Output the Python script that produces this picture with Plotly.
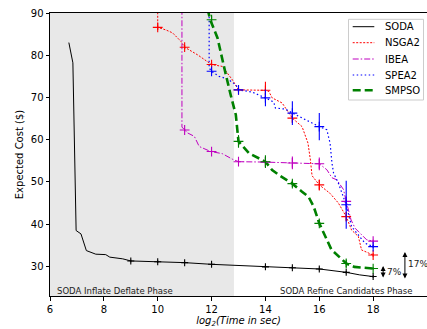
import plotly.graph_objects as go

# ---------------- data ----------------
soda_x = [6.7, 6.85, 6.97, 7.15, 7.35, 7.7, 8.07, 8.22, 8.7, 9.0, 10, 11, 12, 13, 14, 15, 16, 17, 17.5, 18]
soda_y = [83, 78.2, 38.5, 37.7, 33.75, 32.9, 32.8, 32.2, 31.8, 31.3, 31.1, 30.9, 30.5, 30.2, 29.9, 29.7, 29.4, 28.6, 28.0, 27.6]
soda_mx = [9, 10, 11, 12, 14, 15, 16, 17, 18]
soda_my = [31.3, 31.1, 30.9, 30.5, 29.9, 29.7, 29.4, 28.6, 27.6]
soda_me = [0.3, 0.3, 0.2, 0.2, 0.3, 0.3, 0.3, 0.3, 0.3]

nsga_x = [10.0, 10.0, 10.3, 10.55, 10.86, 11.0, 11.48, 12.0, 12.4, 12.77, 13.0, 14.0, 14.13, 14.25, 14.62, 15.0, 15.36, 15.58, 15.67, 15.73, 15.79, 16.0, 16.4, 16.71, 17.0, 17.2, 17.45, 17.57, 18.0]
nsga_y = [91, 86.6, 86.0, 85.3, 83.3, 81.9, 80.1, 77.8, 77.35, 74.2, 71.8, 71.7, 71.4, 69.9, 68.7, 65.1, 63.1, 59.2, 55.2, 51.5, 51.0, 49.3, 47.3, 45.0, 41.8, 38.6, 37.1, 33.9, 32.7]
nsga_mx = [10, 11, 12, 13, 14, 15, 16, 17, 18]
nsga_my = [86.6, 81.9, 77.8, 71.8, 71.7, 65.1, 49.3, 41.8, 32.7]
nsga_me = [0.6, 0.5, 0.5, 0.5, 2.0, 1.0, 1.3, 1.0, 0.4]

ibea_x = [10.9, 10.9, 11.0, 11.11, 11.36, 11.54, 11.97, 12.4, 12.77, 13.0, 14.0, 15.0, 16.0, 16.28, 16.47, 16.65, 16.9, 17.0, 17.18, 17.33, 17.57, 17.76, 18.0]
ibea_y = [91, 63.0, 62.3, 61.6, 60.8, 58.4, 57.2, 56.7, 55.4, 54.8, 54.7, 54.5, 54.3, 52.9, 51.0, 50.5, 48.2, 45.4, 41.0, 39.05, 37.5, 36.3, 36.0]
ibea_mx = [11, 12, 13, 14, 15, 16, 17, 18]
ibea_my = [62.3, 57.2, 54.8, 54.7, 54.5, 54.3, 45.4, 36.0]
ibea_me = [0.3, 0.2, 0.2, 0.4, 1.5, 1.5, 1.0, 0.3]

spea_x = [11.91, 11.91, 12.0, 12.28, 12.59, 12.9, 13.0, 13.5, 14.0, 14.31, 14.37, 14.74, 15.0, 15.36, 15.73, 16.0, 16.28, 16.4, 16.47, 16.53, 16.71, 17.0, 17.2, 17.45, 17.7, 18.0]
spea_y = [91, 77.0, 76.2, 75.0, 74.4, 73.0, 71.8, 71.3, 69.9, 68.9, 67.5, 67.25, 66.3, 65.1, 63.9, 63.1, 62.35, 59.2, 54.5, 52.1, 49.7, 44.6, 39.4, 37.5, 35.5, 34.7]
spea_mx = [12, 13, 14, 15, 16, 17, 18]
spea_my = [76.2, 71.8, 69.9, 66.3, 63.1, 44.6, 34.7]
spea_me = [0.5, 0.5, 2.0, 2.8, 3.2, 5.7, 0.4]

smpso_x = [11.85, 11.95, 12.22, 12.38, 12.53, 12.71, 12.9, 13.0, 13.39, 14.0, 14.25, 14.56, 15.0, 15.36, 15.6, 15.79, 16.0, 16.45, 17.0, 17.3, 18.0]
smpso_y = [91, 88.4, 84.1, 79.3, 75.4, 70.6, 65.9, 59.6, 56.8, 54.8, 52.8, 51.4, 49.6, 47.7, 46.5, 44.2, 40.2, 34.0, 30.7, 29.9, 29.5]
smpso_mx = [12, 13, 14, 15, 16, 17, 18]
smpso_my = [88.4, 59.6, 54.8, 49.6, 40.2, 30.7, 29.5]
smpso_me = [1.0, 1.5, 1.5, 0.8, 0.6, 0.9, 0.3]

x_ticks = [6, 8, 10, 12, 14, 16, 18, 20]
y_ticks = [30, 40, 50, 60, 70, 80, 90]

FONT = "DejaVu Sans"

fig = go.Figure()

series = [
    ("SODA", soda_x, soda_y, soda_mx, soda_my, soda_me, "black", 1.0, "solid", 5),
    ("NSGA2", nsga_x, nsga_y, nsga_mx, nsga_my, nsga_me, "#ff0000", 1.0, "2px,1.5px", 7),
    ("IBEA", ibea_x, ibea_y, ibea_mx, ibea_my, ibea_me, "#bf00bf", 1.0, "6px,2px,1.5px,2px", 7),
    ("SPEA2", spea_x, spea_y, spea_mx, spea_my, spea_me, "#0000ff", 1.2, "1.5px,2.5px", 7),
    ("SMPSO", smpso_x, smpso_y, smpso_mx, smpso_my, smpso_me, "#008000", 2.6, "8px,4px", 7),
]

for name, lx, ly, mx, my, me, col, w, dash, msz in series:
    fig.add_trace(go.Scatter(x=lx, y=ly, mode="lines", name=name, showlegend=False,
                             line=dict(color=col, width=w, dash=dash)))
for name, lx, ly, mx, my, me, col, w, dash, msz in series:
    fig.add_trace(go.Scatter(x=mx, y=my, mode="markers", showlegend=False,
                             marker=dict(symbol="cross-thin", size=msz,
                                         line=dict(color=col, width=1.1)),
                             error_y=dict(type="data", array=me, visible=True,
                                          color=col, thickness=1.1, width=0)))

# shaded inflate/deflate phase region
fig.add_shape(type="rect", xref="x", yref="paper", x0=6, x1=12.83, y0=0, y1=1,
              fillcolor="#e8e8e8", line=dict(width=0), layer="below")

# ---- manual legend (matplotlib-style compact box) ----
L, T, B_ = 50, 13, 296          # plot-area pixel frame
PW, PH = 377, 283
def px(xp):
    return (xp - L) / PW
def py(yp):
    return (B_ - yp) / PH

fig.add_shape(type="rect", xref="paper", yref="paper",
              x0=px(348.5), x1=px(423.5), y0=py(100), y1=py(19.3),
              fillcolor="rgba(255,255,255,0.85)", line=dict(color="#cccccc", width=1),
              layer="above")
row_y = [26.7, 42.7, 59.0, 75.0, 90.3]
for (name, lx, ly, mx, my, me, col, w, dash, msz), ry in zip(series, row_y):
    fig.add_shape(type="line", xref="paper", yref="paper",
                  x0=px(352.7), x1=px(374.3), y0=py(ry), y1=py(ry),
                  line=dict(color=col, width=w, dash=dash), layer="above")
    fig.add_annotation(xref="paper", yref="paper", x=px(382.5), y=py(ry), text=name,
                       showarrow=False, xanchor="left", yanchor="middle",
                       font=dict(family=FONT, size=10, color="black"))

# phase labels
fig.add_annotation(x=6.2, y=24.3, xref="x", yref="y", text="SODA Inflate Deflate Phase",
                   showarrow=False, xanchor="left", yanchor="middle",
                   font=dict(family=FONT, size=8.5, color="#222"))
fig.add_annotation(x=19.5, y=24.3, xref="x", yref="y", text="SODA Refine Candidates Phase",
                   showarrow=False, xanchor="right", yanchor="middle",
                   font=dict(family=FONT, size=8.5, color="#222"))

# double-headed arrows
fig.add_annotation(x=18.37, y=30.1, ax=18.37, ay=27.0, xref="x", yref="y", axref="x", ayref="y",
                   text="", showarrow=True, arrowside="end+start", arrowhead=2, arrowsize=1,
                   arrowwidth=1, arrowcolor="black")
fig.add_annotation(x=18.78, y=28.7, xref="x", yref="y", text="7%", showarrow=False,
                   xanchor="center", font=dict(family=FONT, size=9, color="#222"))
fig.add_annotation(x=19.18, y=33.4, ax=19.18, ay=26.8, xref="x", yref="y", axref="x", ayref="y",
                   text="", showarrow=True, arrowside="end+start", arrowhead=2, arrowsize=1,
                   arrowwidth=1, arrowcolor="black")
fig.add_annotation(x=19.66, y=30.6, xref="x", yref="y", text="17%", showarrow=False,
                   xanchor="center", font=dict(family=FONT, size=9, color="#222"))

fig.update_layout(
    width=427, height=329,
    margin=dict(l=50, r=0, t=13, b=33),
    paper_bgcolor="white", plot_bgcolor="white",
    font=dict(family=FONT, size=10, color="black"),
    showlegend=False,
    xaxis=dict(range=[6, 20], tickvals=x_ticks, ticktext=[str(t) for t in x_ticks],
               showgrid=False, zeroline=False, showline=True, linecolor="black", linewidth=1,
               mirror=True, ticks="outside", ticklen=3.5, tickcolor="black",
               tickfont=dict(family=FONT, size=10),
               title=dict(text="<i>log<sub>2</sub>(Time in sec)</i>", standoff=3,
                          font=dict(family=FONT, size=10))),
    yaxis=dict(range=[23, 90], tickvals=y_ticks, ticktext=[str(t) for t in y_ticks],
               showgrid=False, zeroline=False, showline=True, linecolor="black", linewidth=1,
               ticks="outside", ticklen=3.5, tickcolor="black",
               tickfont=dict(family=FONT, size=10),
               title=dict(text="Expected Cost ($)", standoff=5,
                          font=dict(family=FONT, size=10))),
)

fig.write_html("out.html")
